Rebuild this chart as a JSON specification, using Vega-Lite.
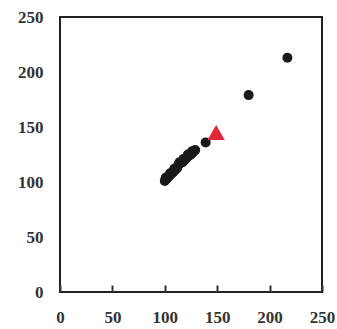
{
  "$schema": "https://vega.github.io/schema/vega-lite/v6.json",
  "autosize": "none",
  "width": 262,
  "height": 275,
  "padding": {"left": 60, "top": 17, "right": 15, "bottom": 37},
  "background": "white",
  "config": {
    "view": {"stroke": "#222", "strokeWidth": 2},
    "axis": {
      "labelFont": "Liberation Serif",
      "labelFontWeight": "bold",
      "labelFontSize": 17,
      "labelColor": "#333",
      "grid": false,
      "domain": false,
      "title": null
    }
  },
  "datasets": {
    "pts": [
      {"x": 100, "y": 101},
      {"x": 101, "y": 104},
      {"x": 102, "y": 103},
      {"x": 104, "y": 105},
      {"x": 105, "y": 108},
      {"x": 106, "y": 107},
      {"x": 108, "y": 109},
      {"x": 109, "y": 112},
      {"x": 110, "y": 111},
      {"x": 112, "y": 113},
      {"x": 113, "y": 116},
      {"x": 114, "y": 118},
      {"x": 115, "y": 117},
      {"x": 117, "y": 118},
      {"x": 118, "y": 121},
      {"x": 119, "y": 120},
      {"x": 121, "y": 122},
      {"x": 122, "y": 125},
      {"x": 123, "y": 124},
      {"x": 125, "y": 125},
      {"x": 126, "y": 128},
      {"x": 127, "y": 127},
      {"x": 129, "y": 129},
      {"x": 139, "y": 136},
      {"x": 180, "y": 179},
      {"x": 217, "y": 213}
    ],
    "tri": [
      {"x": 149, "y": 145}
    ]
  },
  "layer": [
    {
      "data": {"name": "pts"},
      "mark": {"type": "circle", "size": 100, "color": "#1a1a1a", "opacity": 1},
      "encoding": {
        "x": {"field": "x", "type": "quantitative", "scale": {"domain": [0, 250], "nice": false},
          "axis": {"values": [0, 50, 100, 150, 200, 250], "tickSize": -7, "tickWidth": 2, "tickColor": "#333", "labelPadding": 24, "labelFlush": false}},
        "y": {"field": "y", "type": "quantitative", "scale": {"domain": [0, 250], "nice": false},
          "axis": {"values": [0, 50, 100, 150, 200, 250], "ticks": false, "labelPadding": 17, "labelFlush": false}}
      }
    },
    {
      "data": {"name": "tri"},
      "mark": {"type": "point", "shape": "triangle-up", "size": 300, "filled": true, "color": "#e0283a", "opacity": 1},
      "encoding": {
        "x": {"field": "x", "type": "quantitative"},
        "y": {"field": "y", "type": "quantitative"}
      }
    }
  ]
}
